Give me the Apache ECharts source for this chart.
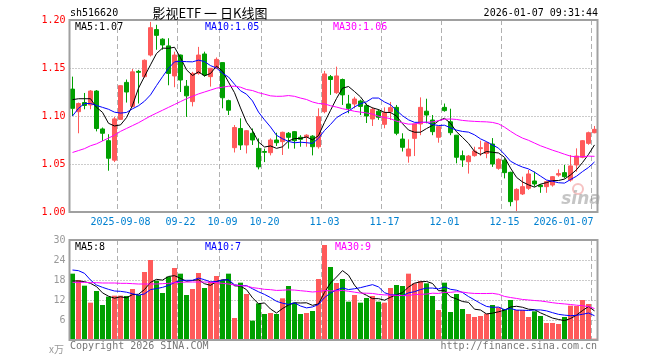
<!DOCTYPE html>
<html><head><meta charset="utf-8">
<script src="https://cdn.jsdelivr.net/npm/echarts@6/dist/echarts.min.js"></script>
<style>html,body{margin:0;padding:0;background:#fff}#c{width:660px;height:360px}</style>
</head><body><div id="c"></div>
<script>
const dates = [
'2025-08-27','2025-08-28','2025-08-29',
'2025-09-01','2025-09-02','2025-09-03','2025-09-04','2025-09-05',
'2025-09-08','2025-09-09','2025-09-10','2025-09-11','2025-09-12',
'2025-09-15','2025-09-16','2025-09-17','2025-09-18','2025-09-19',
'2025-09-22','2025-09-23','2025-09-24','2025-09-25','2025-09-26',
'2025-09-29','2025-09-30',
'2025-10-09','2025-10-10',
'2025-10-13','2025-10-14','2025-10-15','2025-10-16','2025-10-17',
'2025-10-20','2025-10-21','2025-10-22','2025-10-23','2025-10-24',
'2025-10-27','2025-10-28','2025-10-29','2025-10-30','2025-10-31',
'2025-11-03','2025-11-04','2025-11-05','2025-11-06','2025-11-07',
'2025-11-10','2025-11-11','2025-11-12','2025-11-13','2025-11-14',
'2025-11-17','2025-11-18','2025-11-19','2025-11-20','2025-11-21',
'2025-11-24','2025-11-25','2025-11-26','2025-11-27','2025-11-28',
'2025-12-01','2025-12-02','2025-12-03','2025-12-04','2025-12-05',
'2025-12-08','2025-12-09','2025-12-10','2025-12-11','2025-12-12',
'2025-12-15','2025-12-16','2025-12-17','2025-12-18','2025-12-19',
'2025-12-22','2025-12-23','2025-12-24','2025-12-25','2025-12-26',
'2025-12-29','2025-12-30','2025-12-31',
'2026-01-05','2026-01-06','2026-01-07'];

const opens = [1.128,1.1045,1.114,1.1115,1.126,1.0865,1.0743,1.054,1.0965,1.135,
1.110,1.1465,1.141,1.1635,1.190,1.180,1.173,1.1417,1.1635,1.131,
1.115,1.1444,1.1646,1.141,1.1497,1.1556,1.116,1.067,1.087,1.0698,
1.082,1.0663,1.0630,1.0618,1.075,1.0733,1.082,1.0837,1.0778,1.0778,
1.079,1.068,1.1045,1.141,1.1243,1.138,1.1125,1.1125,1.1156,1.1108,
1.0969,1.105,1.0913,1.1045,1.109,1.076,1.0583,1.0767,1.0917,1.105,
1.0958,1.0778,1.109,1.094,1.080,1.0587,1.0524,1.0587,1.0660,1.061,
1.0708,1.0455,1.054,1.0413,1.0125,1.0188,1.0247,1.0323,1.028,1.0264,
1.0281,1.0385,1.041,1.0333,1.049,1.057,1.0715,1.0826];
const closes = [1.108,1.113,1.111,1.126,1.087,1.082,1.056,1.097,1.1316,1.125,
1.146,1.1455,1.158,1.192,1.184,1.174,1.1444,1.1635,1.1375,1.121,
1.1444,1.1635,1.1427,1.1497,1.159,1.119,1.106,1.088,1.0698,1.0847,
1.075,1.047,1.0622,1.075,1.0722,1.083,1.0778,1.0743,1.0757,1.080,
1.068,1.0993,1.1438,1.138,1.1417,1.122,1.108,1.1177,1.110,1.100,
1.107,1.0986,1.1035,1.1087,1.082,1.0674,1.0656,1.0917,1.109,1.101,
1.0837,1.0889,1.1056,1.0826,1.057,1.0542,1.0583,1.0635,1.0670,1.0722,
1.050,1.0549,1.041,1.0108,1.0236,1.0264,1.0396,1.0292,1.0264,1.0316,
1.0368,1.040,1.0368,1.048,1.0583,1.0743,1.0826,1.0861];
const lows = [1.100,1.082,1.107,1.107,1.084,1.074,1.043,1.052,1.096,1.114,
1.109,1.113,1.140,1.162,1.169,1.169,1.132,1.130,1.125,1.099,
1.110,1.143,1.141,1.1306,1.149,1.108,1.101,1.062,1.0646,1.061,
1.0698,1.0444,1.052,1.059,1.0688,1.0594,1.066,1.066,1.068,1.068,
1.059,1.066,1.1028,1.122,1.123,1.1115,1.1028,1.108,1.101,1.0927,
1.0896,1.096,1.0872,1.0958,1.080,1.063,1.0514,1.0583,1.080,1.0924,
1.080,1.0722,1.1045,1.080,1.0507,1.047,1.040,1.0576,1.0583,1.056,
1.047,1.044,1.035,1.006,1.000,1.0177,1.023,1.0264,1.020,1.020,
1.0264,1.0368,1.035,1.0316,1.042,1.056,1.070,1.082];
const highs = [1.141,1.114,1.124,1.127,1.127,1.088,1.081,1.099,1.132,1.138,
1.149,1.148,1.159,1.198,1.195,1.181,1.181,1.167,1.164,1.1375,
1.146,1.172,1.167,1.150,1.161,1.1556,1.117,1.0906,1.0976,1.0854,
1.087,1.0767,1.066,1.0767,1.0826,1.0837,1.0833,1.0844,1.080,1.081,
1.080,1.108,1.147,1.1427,1.1514,1.139,1.122,1.120,1.117,1.113,
1.109,1.107,1.109,1.1146,1.1115,1.082,1.0757,1.092,1.1194,1.118,
1.101,1.0896,1.113,1.1076,1.0802,1.064,1.0594,1.068,1.0743,1.0733,
1.077,1.056,1.056,1.042,1.0247,1.0368,1.0438,1.042,1.029,1.0326,
1.0375,1.0444,1.049,1.0594,1.0663,1.075,1.0837,1.0896];
const volumes = [19.9,18.0,16.3,11.2,14.7,10.5,13.0,13.3,13.3,13.2,
15.3,13.5,20.4,24.0,17.8,14.1,19.0,21.6,19.9,13.5,
15.3,20.1,15.6,17.5,19.2,18.0,19.9,6.6,17.2,13.8,
5.8,11.0,7.8,8.1,7.8,12.5,16.2,11.2,7.8,8.1,
8.7,18.3,28.5,21.9,17.1,18.3,11.5,13.5,11.2,12.6,
13.2,11.5,11.2,15.6,16.5,16.2,19.9,17.0,17.7,17.0,
13.2,9.0,17.2,8.4,13.8,9.3,7.8,6.9,7.2,7.9,
10.5,9.8,9.3,12.0,9.0,9.0,6.9,8.6,7.2,5.1,
5.1,4.8,6.9,10.3,10.2,12.0,10.8,0.4];

const ma5Head = [1.117,1.118,1.118,1.118];
const ma10Head = [1.100,1.108,1.113,1.113,1.111,1.109,1.107,1.104,1.103];
const ma30Head = [1.062,1.064,1.066,1.069,1.071,1.074,1.077,1.080,1.084,1.087,
1.090,1.093,1.0965,1.100,1.103,1.106,1.109,1.112,1.115,1.118,
1.1205,1.123,1.125,1.127,1.129,1.130,1.131,1.131,1.130];
const volMa5Head = [17.7,17.7,17.5,17.0];
const volMa10Head = [21.0,20.8,20.0,18.0,16.5,15.8,15.2,14.7,14.6];
const volMa30Head = [17.3,17.3,17.3,17.2,17.2,17.1,17.1,17.1,17.0,17.0,
16.9,16.8,16.8,16.8,16.8,16.9,17.0,17.2,17.3,17.4,
17.4,17.4,17.4,17.3,17.2,17.0,16.8,16.5,16.3];

const labelIdx = [8,18,25,32,42,52,62,72,87];
const labelText = ['2025-09-08','09-22','10-09','10-20','11-03','11-17','12-01','12-15','2026-01-07'];
const priceAxis = {min:1.00, max:1.20, step:0.05};
const volAxis = {min:0, max:30, step:6};
const legendPrice = ['MA5:1.07','MA10:1.05','MA30:1.06'];
const legendVol = ['MA5:8','MA10:7','MA30:9'];

const UP = '#ff5a5a', DOWN = '#00a000';
const MONO = '"DejaVu Sans Mono", "Liberation Mono", monospace';

function ma(arr, n, head) {
  return arr.map((v, i) => {
    if (i < n - 1) return head[i];
    let s = 0; for (let k = i - n + 1; k <= i; k++) s += arr[k];
    return +(s / n).toFixed(4);
  });
}

const kData = dates.map((d, i) => [opens[i], closes[i], lows[i], highs[i]]);
const volData = volumes.map((v, i) => ({value: v, itemStyle: {color: closes[i] >= opens[i] ? UP : DOWN}}));

const chart = echarts.init(document.getElementById('c'), null, {renderer: 'canvas'});
const gridL = 69.5, gridW = 528;
const vSplit = {show: true, interval: (idx) => labelIdx.indexOf(idx) >= 0,
  lineStyle: {color: '#b0b0b0', type: [5, 3], width: 1}};

function txt(x, y, text, color, align, size, fam) {
  return {type: 'text', x: x, y: y, silent: true, z: 100,
    style: {text: text, fill: color, font: (size || 10) + 'px ' + (fam || MONO),
      textAlign: align || 'left', textVerticalAlign: 'middle', verticalAlign: 'middle'}};
}

chart.setOption({
  animation: false,
  backgroundColor: '#fff',
  grid: [
    {left: gridL, top: 20, width: gridW, height: 192, show: true, borderColor: '#a0a0a0', borderWidth: 2, backgroundColor: 'transparent', z: 10},
    {left: gridL, top: 240, width: gridW, height: 100, show: true, borderColor: '#a0a0a0', borderWidth: 2, backgroundColor: 'transparent', z: 10}
  ],
  xAxis: [
    {type: 'category', gridIndex: 0, data: dates, boundaryGap: true,
      axisLine: {show: false}, axisTick: {show: false},
      axisLabel: {show: true, interval: (idx) => labelIdx.indexOf(idx) >= 0, margin: 5,
        color: '#0080d0', fontFamily: MONO, fontSize: 10,
        formatter: (v, idx) => {
          const k = labelIdx.indexOf(idx);
          if (k < 0) return '';
          if (k === labelIdx.length - 1) return '{r|' + labelText[k] + '}';
          return labelText[k];
        },
        rich: {r: {color: '#0080d0', fontFamily: MONO, fontSize: 10, padding: [0, 62, 0, 0]}}
      },
      splitLine: vSplit},
    {type: 'category', gridIndex: 1, data: dates, boundaryGap: true,
      axisLine: {show: false}, axisTick: {show: false}, axisLabel: {show: false},
      splitLine: vSplit}
  ],
  yAxis: [
    {type: 'value', gridIndex: 0, min: priceAxis.min, max: priceAxis.max, interval: priceAxis.step,
      axisLine: {show: false}, axisTick: {show: false},
      axisLabel: {color: '#ff0000', fontFamily: MONO, fontSize: 10, margin: 4, formatter: v => v.toFixed(2)},
      splitLine: {show: true, lineStyle: {color: '#999', type: [1, 2], width: 1}}},
    {type: 'value', gridIndex: 1, min: volAxis.min, max: volAxis.max, interval: volAxis.step,
      axisLine: {show: false}, axisTick: {show: false},
      axisLabel: {color: '#999', fontFamily: MONO, fontSize: 10, margin: 4, formatter: v => v === 0 ? '' : String(v)},
      splitLine: {show: true, lineStyle: {color: '#999', type: [1, 2], width: 1}}}
  ],
  series: [
    {type: 'candlestick', xAxisIndex: 0, yAxisIndex: 0, data: kData, barWidth: 4, clip: false,
      itemStyle: {color: UP, color0: DOWN, borderColor: UP, borderColor0: DOWN, borderWidth: 1}, z: 3},
    {type: 'line', xAxisIndex: 0, yAxisIndex: 0, data: ma(closes, 5, ma5Head), showSymbol: false, symbol: 'none',
      lineStyle: {color: '#000', width: 1}, z: 4},
    {type: 'line', xAxisIndex: 0, yAxisIndex: 0, data: ma(closes, 10, ma10Head), showSymbol: false, symbol: 'none',
      lineStyle: {color: '#0000ff', width: 1}, z: 4},
    {type: 'line', xAxisIndex: 0, yAxisIndex: 0, data: ma(closes, 30, ma30Head), showSymbol: false, symbol: 'none',
      lineStyle: {color: '#ff00ff', width: 1}, z: 4},
    {type: 'bar', xAxisIndex: 1, yAxisIndex: 1, data: volData, barWidth: 5, z: 3},
    {type: 'line', xAxisIndex: 1, yAxisIndex: 1, data: ma(volumes, 5, volMa5Head), showSymbol: false, symbol: 'none',
      lineStyle: {color: '#000', width: 1}, z: 4},
    {type: 'line', xAxisIndex: 1, yAxisIndex: 1, data: ma(volumes, 10, volMa10Head), showSymbol: false, symbol: 'none',
      lineStyle: {color: '#0000ff', width: 1}, z: 4},
    {type: 'line', xAxisIndex: 1, yAxisIndex: 1, data: ma(volumes, 30, volMa30Head), showSymbol: false, symbol: 'none',
      lineStyle: {color: '#ff00ff', width: 1}, z: 4}
  ],
  graphic: [
    txt(70, 13, 'sh516620', '#000', 'left'),
    txt(210, 13, '影视ETF 一 日K线图', '#000', 'center', 13, '"Noto Sans CJK SC", sans-serif'),
    txt(598, 13, '2026-01-07 09:31:44', '#000', 'right'),
    txt(75, 27, legendPrice[0], '#000', 'left'),
    txt(205, 27, legendPrice[1], '#0000ff', 'left'),
    txt(333, 27, legendPrice[2], '#ff00ff', 'left'),
    txt(75, 247, legendVol[0], '#000', 'left'),
    txt(205, 247, legendVol[1], '#0000ff', 'left'),
    txt(335, 247, legendVol[2], '#ff00ff', 'left'),
    txt(64, 349, 'x万', '#999', 'right', 10, '"Noto Sans CJK SC", sans-serif'),
    txt(70, 346, 'Copyright 2026 SINA.COM', '#777', 'left'),
    txt(597, 346, 'http://finance.sina.com.cn', '#777', 'right'),
    {type: 'circle', shape: {cx: 578, cy: 189, r: 5}, silent: true, z: 1,
      style: {fill: 'none', stroke: 'rgba(235,120,120,0.45)', lineWidth: 2}},
    {type: 'text', x: 581, y: 200, silent: true, z: 1,
      style: {text: 'sina', fill: 'rgba(150,150,150,0.55)', font: 'italic bold 17px "DejaVu Sans", sans-serif',
        textAlign: 'center', textVerticalAlign: 'middle', verticalAlign: 'middle'}}
  ]
});
</script></body></html>
